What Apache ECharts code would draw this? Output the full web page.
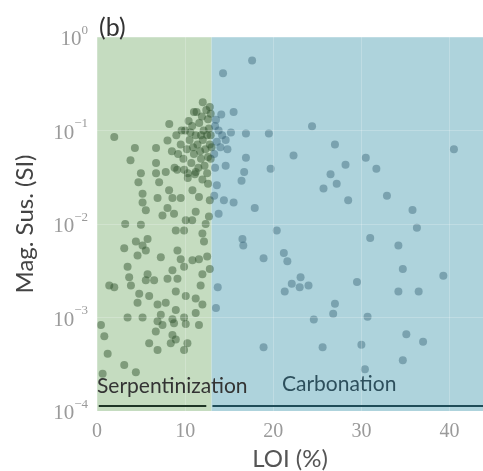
<!DOCTYPE html>
<html>
<head>
<meta charset="utf-8">
<script src="https://cdn.jsdelivr.net/npm/echarts@6/dist/echarts.min.js"></script>
<style>
html, body { margin: 0; padding: 0; background: #fff; }
#chart { width: 483px; height: 471px; }
</style>
</head>
<body>
<div id="chart"></div>
<script>
// [LOI (%), magnetic susceptibility (SI)]
const serpentinized = [
    [1.96, 0.085], [11.0, 0.158], [8.2, 0.117], [8.0, 0.078], [4.3, 0.065], [6.7, 0.065], [3.8, 0.048], [6.7, 0.045],
    [9.0, 0.089], [9.5, 0.071], [10.0, 0.1], [10.2, 0.063], [10.5, 0.079], [10.8, 0.112], [11.0, 0.056], [11.2, 0.089],
    [11.4, 0.071], [11.6, 0.12], [11.8, 0.05], [12.0, 0.079], [12.1, 0.1], [12.3, 0.063], [12.5, 0.089], [12.6, 0.132],
    [12.8, 0.071], [12.9, 0.05], [12.7, 0.105], [12.2, 0.042], [11.5, 0.04], [10.7, 0.045], [9.8, 0.05], [9.2, 0.056],
    [8.8, 0.04], [10.3, 0.035], [11.9, 0.141], [12.4, 0.166], [12.9, 0.151], [10.9, 0.066], [11.7, 0.06], [12.6, 0.052],
    [9.6, 0.1], [10.4, 0.126], [11.3, 0.158], [12.0, 0.2], [12.8, 0.178], [9.9, 0.038], [12.5, 0.035], [11.1, 0.034],
    [8.5, 0.06], [12.9, 0.089], [11.8, 0.089], [10.6, 0.095], [13.0, 0.066],
    [4.98, 0.035], [6.7, 0.035], [7.8, 0.036], [4.7, 0.028], [7.05, 0.028], [9.1, 0.038], [10.3, 0.031], [11.2, 0.036],
    [11.96, 0.030], [5.17, 0.021], [5.17, 0.017], [5.54, 0.014], [6.87, 0.019], [8.18, 0.023], [8.56, 0.019], [9.5, 0.019],
    [8.0, 0.0148], [8.74, 0.0129], [7.43, 0.0123], [11.2, 0.0135], [10.07, 0.011], [10.8, 0.011], [3.2, 0.010], [4.98, 0.0098],
    [8.94, 0.0085], [9.88, 0.0085], [12.33, 0.010], [11.96, 0.0079], [12.14, 0.0065], [4.41, 0.0065], [5.74, 0.0069],
    [10.83, 0.023], [11.57, 0.0195], [12.6, 0.027], [12.8, 0.018], [12.7, 0.012], [12.5, 0.0045], [12.8, 0.0033],
    [3.09, 0.0055], [5.17, 0.0059], [5.54, 0.0052], [4.6, 0.0046], [9.13, 0.0052], [7.24, 0.0044], [9.5, 0.0042],
    [10.83, 0.0041], [11.57, 0.0042], [3.47, 0.0035], [9.88, 0.0035], [8.56, 0.0032], [11.96, 0.0029], [3.65, 0.0027],
    [5.74, 0.0029], [5.54, 0.0025], [6.48, 0.0025], [8.0, 0.0026], [9.13, 0.0026], [1.39, 0.0022], [1.96, 0.0021],
    [3.85, 0.0022], [11.76, 0.0022], [4.79, 0.0018], [5.92, 0.0017], [8.94, 0.0019], [10.07, 0.0017], [11.2, 0.0016],
    [4.6, 0.00144], [6.87, 0.00138], [7.8, 0.00144], [11.96, 0.00138], [7.24, 0.00107], [8.94, 0.0012], [11.2, 0.00112],
    [3.47, 0.001], [5.17, 0.001], [8.56, 0.00096], [9.88, 0.001],
    [6.87, 0.00091], [7.43, 0.00083], [8.74, 0.00087], [10.07, 0.00085], [11.57, 0.00083], [0.45, 0.00083], [6.67, 0.00071],
    [8.56, 0.00065], [8.94, 0.00058], [10.26, 0.00053], [8.37, 0.00053], [0.83, 0.00063], [5.92, 0.00053], [6.87, 0.00045],
    [9.88, 0.00045], [1.21, 0.00041], [3.09, 0.00031], [4.41, 0.00026], [0.64, 0.00025]
]
const carbonated = [
    [17.6, 0.56], [14.3, 0.41], [14.1, 0.148], [15.5, 0.158], [16.9, 0.093], [19.5, 0.093], [24.4, 0.111], [27.0, 0.071],
    [40.5, 0.063], [16.9, 0.051], [22.3, 0.054], [30.5, 0.051],
    [13.4, 0.112], [13.8, 0.1], [14.2, 0.089], [14.6, 0.079], [13.6, 0.076], [14.0, 0.066], [14.8, 0.063], [13.3, 0.056],
    [15.2, 0.095], [13.5, 0.13], [13.4, 0.04], [13.6, 0.026], [13.3, 0.02],
    [14.6, 0.042], [16.7, 0.036], [19.7, 0.039], [16.4, 0.029], [28.2, 0.043], [31.7, 0.039], [26.5, 0.034], [27.2, 0.027],
    [25.7, 0.024], [28.5, 0.018], [32.9, 0.020], [14.4, 0.018], [15.5, 0.017], [17.9, 0.0148], [13.8, 0.0129], [35.8, 0.0141],
    [36.3, 0.0091], [20.4, 0.0085], [31.0, 0.0071], [16.5, 0.0069], [16.6, 0.0059], [34.2, 0.0059], [21.2, 0.0049],
    [21.6, 0.0040], [18.9, 0.0043], [34.7, 0.0033], [39.3, 0.0028], [29.5, 0.0024], [22.1, 0.0023], [23.1, 0.0027],
    [24.0, 0.0022], [21.3, 0.0019], [23.0, 0.0021], [34.2, 0.0019], [36.5, 0.0019], [13.7, 0.0021], [27.0, 0.0014],
    [26.8, 0.0011], [30.7, 0.00102], [24.6, 0.00095], [13.5, 0.00126], [18.9, 0.00048], [25.6, 0.00048], [30.0, 0.00051],
    [35.1, 0.00066], [37.0, 0.00055], [34.7, 0.00035], [30.4, 0.00028]
]
const xTicks = [0, 10, 20, 30, 40]
const yDecades = [0, -1, -2, -3, -4]
const boundaryLoi = 13
const loiMax = 43.8
const arrowLevel = 1.15e-4
const regionNames = ['Serpentinization', 'Carbonation']

const chart = echarts.init(document.getElementById('chart'))
const tickFont = {
    color: '#9a9a9a',
    fontFamily: 'Liberation Serif',
    fontSize: 20
}
const option = {
    animation: false,
    title: {
        text: '(b)',
        left: 94,
        top: 10,
        textStyle: { color: '#333', fontFamily: 'Lato', fontSize: 25, fontWeight: 'normal' }
    },
    grid: { left: 97, right: 0, top: 37, bottom: 60, outerBoundsMode: 'none' },
    xAxis: {
        type: 'value',
        min: 0,
        max: loiMax,
        interval: 10,
        z: 3,
        name: 'LOI (%)',
        nameLocation: 'middle',
        nameGap: 36,
        nameTextStyle: { color: '#555', fontFamily: 'Lato', fontSize: 24 },
        axisLine: { show: false },
        axisTick: { show: false },
        axisLabel: Object.assign({
            margin: 11,
            formatter: v => xTicks.indexOf(v) >= 0 ? String(v) : ''
        }, tickFont),
        splitLine: { show: true, lineStyle: { color: 'rgba(255,255,255,0.22)', width: 1 } }
    },
    yAxis: {
        type: 'log',
        logBase: 10,
        min: 1e-4,
        max: 1,
        z: 3,
        name: 'Mag. Sus. (SI)',
        nameLocation: 'middle',
        nameGap: 60,
        nameTextStyle: { color: '#444', fontFamily: 'Lato', fontSize: 24 },
        axisLine: { show: false },
        axisTick: { show: false },
        axisLabel: {
            margin: 9,
            formatter: v => {
                const e = Math.round(Math.log10(v))
                if (yDecades.indexOf(e) < 0) return ''
                return '{b|10}{s|' + (e < 0 ? '\u2212' + (-e) : e) + '}'
            },
            rich: {
                b: Object.assign({ lineHeight: 26, verticalAlign: 'bottom' }, tickFont, { fontSize: 21 }),
                s: Object.assign({}, tickFont, { fontSize: 13, verticalAlign: 'top', lineHeight: 26 })
            }
        },
        splitLine: { show: true, lineStyle: { color: 'rgba(255,255,255,0.22)', width: 1 } }
    },
    series: [
        {
            name: regionNames[0],
            type: 'scatter',
            symbolSize: 8,
            data: serpentinized,
            itemStyle: { color: 'rgba(46,80,44,0.58)' },
            markArea: {
                silent: true,
                itemStyle: { color: '#c5dcc0' },
                data: [[{ xAxis: 0 }, { xAxis: boundaryLoi }]]
            },
            markLine: {
                silent: true,
                symbol: ['none', 'circle'],
                symbolSize: [0, 5],
                label: { show: false },
                lineStyle: { color: '#1f3526', width: 2, type: 'solid' },
                data: [[{ coord: [0.2, arrowLevel] }, { coord: [12.4, arrowLevel] }]]
            }
        },
        {
            name: regionNames[1],
            type: 'scatter',
            symbolSize: 8,
            data: carbonated,
            itemStyle: { color: 'rgba(38,84,104,0.48)' },
            markArea: {
                silent: true,
                itemStyle: { color: '#aed3dc' },
                data: [[{ xAxis: boundaryLoi }, { xAxis: loiMax }]]
            },
            markLine: {
                silent: true,
                symbol: ['none', 'none'],
                label: { show: false },
                lineStyle: { color: '#1f4c58', width: 2, type: 'solid' },
                data: [[{ coord: [13.1, arrowLevel] }, { coord: [loiMax, arrowLevel] }]]
            }
        }
    ],
    graphic: [
        {
            type: 'text',
            left: 97,
            top: 376,
            z: 10,
            style: { text: regionNames[0], fill: '#333', font: '21px Lato' }
        },
        {
            type: 'text',
            left: 282,
            top: 374,
            z: 10,
            style: { text: regionNames[1], fill: '#2d4f5c', font: '21px Lato' }
        }
    ]
}
chart.setOption(option)
window.addEventListener('resize', () => {
    chart.resize()
})
</script>
</body>
</html>
